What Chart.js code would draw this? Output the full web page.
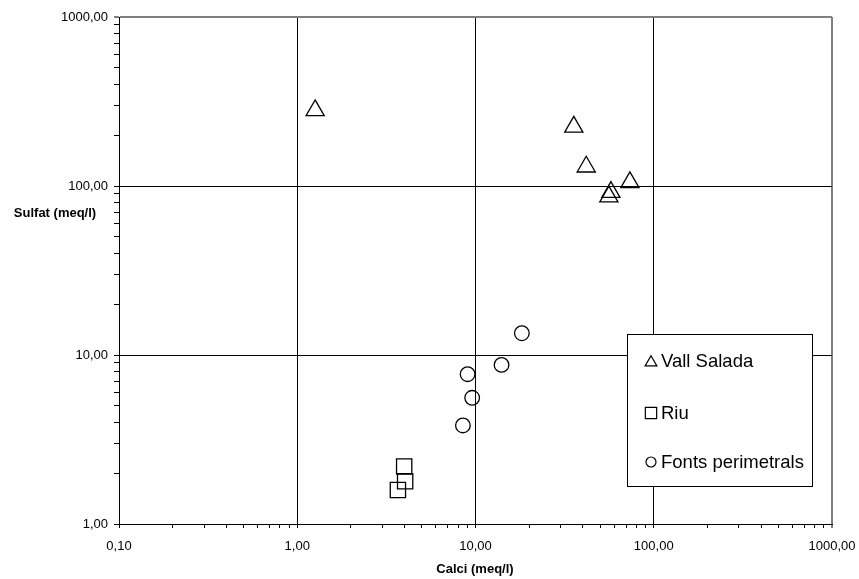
<!DOCTYPE html>
<html>
<head>
<meta charset="utf-8">
<script src="https://cdn.jsdelivr.net/npm/chart.js@4/dist/chart.umd.min.js"></script>
<style>
  html, body { margin: 0; padding: 0; background: #fff; }
  canvas { display: block; }
</style>
</head>
<body>
<canvas id="chart" width="859" height="579"></canvas>
<script>
// ── data ─────────────────────────────────────────────────────────────────────
const seriesNames = ['Vall Salada', 'Riu', 'Fonts perimetrals'];

const vallX  = [1.26, 35.6, 41.8, 73.5, 57.5, 56.0];
const vallY  = [280, 224, 130, 105, 92, 86.6];

const riuX   = [3.98, 4.03, 3.67];
const riuY   = [2.19, 1.79, 1.59];

const fontsX = [18.2, 14.0, 9.03, 9.58, 8.50];
const fontsY = [13.45, 8.74, 7.70, 5.58, 3.83];

const xTicks      = [0.1, 1, 10, 100, 1000];
const xTickLabels = ['0,10', '1,00', '10,00', '100,00', '1000,00'];
const yTicks      = [1, 10, 100, 1000];
const yTickLabels = ['1,00', '10,00', '100,00', '1000,00'];

const xTitle = 'Calci (meq/l)';
const yTitle = 'Sulfat (meq/l)';

// ── helpers ──────────────────────────────────────────────────────────────────
const pts = (xs, ys) => xs.map((x, i) => ({ x, y: ys[i] }));

// major decades plus 2..9 minor marks between them
function logTicks(majors) {
  const out = [];
  majors.forEach((m, i) => {
    out.push({ value: m });
    if (i < majors.length - 1) for (let k = 2; k <= 9; k++) out.push({ value: m * k });
  });
  return out;
}

function majorIndex(majors, v) {
  return majors.findIndex(m => Math.abs(m - v) / m < 1e-9);
}

function axis(majors, labels, opts) {
  const max = majors[majors.length - 1];
  const min = majors[0];
  return {
    type: 'logarithmic',
    position: opts.position,
    min, max,
    afterBuildTicks: s => { s.ticks = logTicks(majors); },
    afterFit: opts.afterFit,
    ticks: {
      autoSkip: false,
      maxRotation: 0,
      padding: opts.padding,
      color: '#000',
      font: { family: 'Liberation Sans, Arial, sans-serif', size: 13 },
      callback: v => {
        const i = majorIndex(majors, v);
        return i >= 0 ? labels[i] : '';
      },
    },
    grid: {
      color: c => {
        const v = c.tick && c.tick.value;
        if (v === undefined) return 'transparent';
        if (Math.abs(v - max) < 1e-9) return '#808080';
        if (Math.abs(v - min) < 1e-9) return 'transparent';
        return majorIndex(majors, v) >= 0 ? '#000' : 'transparent';
      },
      lineWidth: c => (c.tick && Math.abs(c.tick.value - max) < 1e-9 ? 2 : 1),
      tickColor: '#000',
      tickWidth: 1,
      tickLength: opts.tickLength,
    },
    border: { color: '#000', width: 1 },
  };
}

const markerDefaults = {
  backgroundColor: 'transparent',
  borderColor:     '#000',
  borderWidth:     1.3,
};

// ── plugins ──────────────────────────────────────────────────────────────────
const boxLegend = {
  id: 'boxLegend',
  afterDraw(chart) {
    const ctx = chart.ctx;
    ctx.save();
    ctx.fillStyle = '#fff';
    ctx.strokeStyle = '#000';
    ctx.lineWidth = 1;
    ctx.fillRect(627, 334, 185, 152);
    ctx.strokeRect(627.5, 334.5, 185, 152);

    const rows  = [361, 413, 462];
    const radii = [6.8, 8, 5];
    chart.data.datasets.forEach((ds, i) => {
      ctx.strokeStyle = '#000';
      ctx.fillStyle = 'transparent';
      ctx.lineWidth = 1.2;
      Chart.helpers.drawPoint(ctx, {
        pointStyle: ds.pointStyle, radius: radii[i], rotation: 0, borderWidth: 1.2,
      }, 651, rows[i] + (ds.pointStyle === 'triangle' ? 1.5 : 0));
      ctx.fillStyle = '#000';
      ctx.font = '18.5px Liberation Sans, Arial, sans-serif';
      ctx.textAlign = 'left';
      ctx.textBaseline = 'middle';
      ctx.fillText(ds.label, 661, rows[i] + 1);
    });
    ctx.restore();
  },
};

const axisTitles = {
  id: 'axisTitles',
  afterDraw(chart) {
    const ctx = chart.ctx;
    ctx.save();
    ctx.fillStyle = '#000';
    ctx.font = 'bold 13px Liberation Sans, Arial, sans-serif';
    ctx.textAlign = 'center';
    ctx.textBaseline = 'middle';
    ctx.fillText(yTitle, 55, 213);
    ctx.fillText(xTitle, 475, 569);
    ctx.restore();
  },
};

// ── chart ────────────────────────────────────────────────────────────────────
new Chart(document.getElementById('chart'), {
  type: 'scatter',
  data: {
    datasets: [
      { label: seriesNames[0], data: pts(vallX, vallY),   pointStyle: 'triangle', pointRadius: 10.5, ...markerDefaults },
      { label: seriesNames[1], data: pts(riuX, riuY),     pointStyle: 'rect',     pointRadius: 10.8, ...markerDefaults },
      { label: seriesNames[2], data: pts(fontsX, fontsY), pointStyle: 'circle',   pointRadius: 7.3,  ...markerDefaults },
    ],
  },
  options: {
    responsive: false,
    animation: false,
    events: [],
    layout: { padding: { top: 17, right: 27, left: 0, bottom: 0 } },
    plugins: {
      legend:  { display: false },
      tooltip: { enabled: false },
    },
    scales: {
      x: axis(xTicks, xTickLabels, {
        position: 'bottom', tickLength: 4, padding: 11,
        afterFit: s => { s.height = 55; s.paddingLeft = 0; s.paddingRight = 0; },
      }),
      y: axis(yTicks, yTickLabels, {
        position: 'left', tickLength: 5, padding: 6,
        afterFit: s => { s.width = 119; s.paddingTop = 0; s.paddingBottom = 0; },
      }),
    },
  },
  plugins: [boxLegend, axisTitles],
});
</script>
</body>
</html>
